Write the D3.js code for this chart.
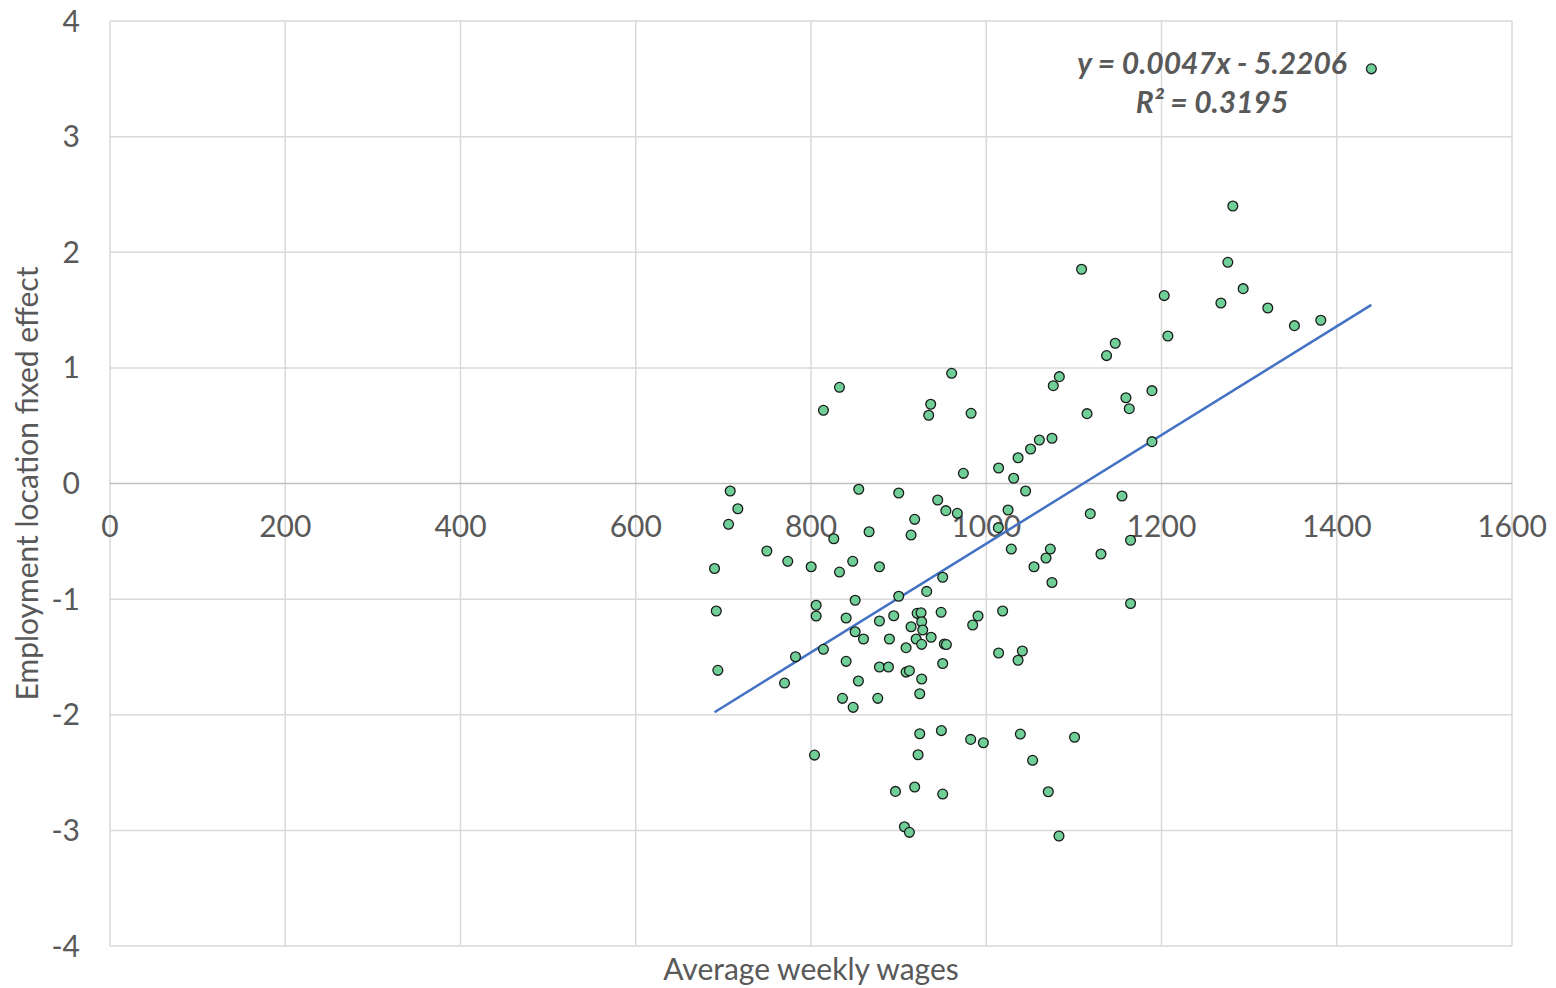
<!DOCTYPE html>
<html><head><meta charset="utf-8">
<script src="https://cdn.jsdelivr.net/npm/d3@7"></script>
<style>html,body{margin:0;padding:0;background:#fff;}</style>
</head><body>
<svg id="c" width="1556" height="988"></svg>
<script>
const xTicks = [0,200,400,600,800,1000,1200,1400,1600];
const yTicks = [-4,-3,-2,-1,0,1,2,3,4];
const wages = [832.5,814.2,936.6,934.3,960.5,707.8,716.5,705.9,854.5,900.1,944.6,953.9,918.3,914.2,866.3,826.0,749.6,773.5,800.2,832.5,847.6,878.1,689.9,950.3,932.0,900.1,850.4,805.9,805.9,691.9,840.1,878.1,894.4,921.1,925.6,948.5,914.2,926.3,927.5,937.1,920.0,926.3,952.2,954.5,889.5,859.9,850.4,814.2,782.3,908.5,840.1,878.1,888.4,908.5,912.3,950.3,693.7,926.3,854.1,769.8,924.1,876.2,835.9,848.1,924.1,948.8,804.0,922.2,896.4,918.3,950.3,906.6,912.3,982.7,1083.4,1076.5,1115.0,1159.4,1163.2,1189.1,1189.1,973.9,1014.1,1031.3,1036.3,1050.6,1060.6,1075.0,1044.9,967.0,1024.9,1013.8,1118.7,1154.9,1164.7,1028.6,1073.1,1068.2,1130.9,1054.5,1075.0,1164.7,1018.7,990.6,984.5,1014.1,1041.2,1036.3,982.2,996.7,1038.9,1100.8,1052.9,1070.8,1083.0,1281.4,1108.8,1275.7,1293.2,1267.8,1321.3,1351.7,1381.8,1203.1,1207.3,1147.2,1137.3,1439.5];
const effects = [0.832,0.633,0.685,0.590,0.953,-0.065,-0.218,-0.353,-0.050,-0.082,-0.143,-0.235,-0.310,-0.446,-0.417,-0.478,-0.584,-0.673,-0.720,-0.766,-0.673,-0.720,-0.735,-0.811,-0.933,-0.975,-1.010,-1.053,-1.146,-1.103,-1.163,-1.189,-1.144,-1.123,-1.118,-1.114,-1.239,-1.196,-1.267,-1.330,-1.345,-1.391,-1.388,-1.393,-1.345,-1.345,-1.282,-1.434,-1.498,-1.420,-1.538,-1.587,-1.587,-1.631,-1.619,-1.557,-1.616,-1.691,-1.708,-1.726,-1.818,-1.858,-1.858,-1.936,-2.164,-2.137,-2.349,-2.346,-2.663,-2.625,-2.686,-2.969,-3.017,0.607,0.924,0.846,0.604,0.742,0.647,0.803,0.362,0.088,0.134,0.045,0.223,0.298,0.376,0.391,-0.065,-0.258,-0.229,-0.382,-0.261,-0.108,-0.491,-0.567,-0.567,-0.644,-0.610,-0.720,-0.856,-1.038,-1.103,-1.146,-1.224,-1.466,-1.449,-1.529,-2.213,-2.242,-2.167,-2.195,-2.394,-2.666,-3.049,2.400,1.853,1.913,1.685,1.561,1.518,1.365,1.412,1.625,1.276,1.213,1.106,3.586];
const slope = 0.0047, intercept = -5.2206;
const eqLabel = "y = 0.0047x - 5.2206";
const r2Label = "R² = 0.3195";
const xTitle = "Average weekly wages";
const yTitle = "Employment location fixed effect";

const svg = d3.select("#c");
const L = 110, R = 1512, T = 21, B = 946;
const x = d3.scaleLinear().domain([0,1600]).range([L,R]);
const y = d3.scaleLinear().domain([-4,4]).range([B,T]);
const font = "Lato, 'Open Sans', sans-serif";
const tc = "#595959";

// gridlines
svg.append("g").selectAll("line.v").data(xTicks).join("line")
  .attr("x1", d=>x(d)).attr("x2", d=>x(d)).attr("y1", T).attr("y2", B)
  .attr("stroke", "#d9d9d9").attr("stroke-width", 1.5);
svg.append("g").selectAll("line.h").data(yTicks).join("line")
  .attr("x1", L).attr("x2", R).attr("y1", d=>y(d)).attr("y2", d=>y(d))
  .attr("stroke", d => d===0 ? "#bfbfbf" : "#d9d9d9").attr("stroke-width", 1.5);

// y tick labels
svg.append("g").selectAll("text").data(yTicks).join("text")
  .attr("x", 80).attr("y", d=>y(d)).attr("dy","0.35em")
  .attr("text-anchor","end").attr("font-family",font).attr("font-size",30)
  .attr("fill",tc).text(d=>d);
// x tick labels at zero line
svg.append("g").selectAll("text").data(xTicks).join("text")
  .attr("x", d=>x(d)).attr("y", y(0)+53)
  .attr("text-anchor","middle").attr("font-family",font).attr("font-size",30)
  .attr("fill",tc).text(d=>d);

// trendline
const xmin = d3.min(wages), xmax = d3.max(wages);
svg.append("line")
  .attr("x1", x(xmin)).attr("y1", y(slope*xmin+intercept))
  .attr("x2", x(xmax)).attr("y2", y(slope*xmax+intercept))
  .attr("stroke","#4472c4").attr("stroke-width",2.5);

// points
svg.append("g").selectAll("circle").data(wages.map((w,i)=>[w,effects[i]])).join("circle")
  .attr("cx", d=>x(d[0])).attr("cy", d=>y(d[1])).attr("r", 4.9)
  .attr("fill","#6fcf97").attr("stroke","#1a1a1a").attr("stroke-width",1.3);

// equation
svg.append("text").attr("x",1212).attr("y",74).attr("text-anchor","middle")
  .attr("font-family",font).attr("font-size",30).attr("font-weight","bold").attr("font-style","italic")
  .attr("fill",tc).text(eqLabel);
svg.append("text").attr("x",1212).attr("y",113).attr("text-anchor","middle")
  .attr("font-family",font).attr("font-size",30).attr("font-weight","bold").attr("font-style","italic")
  .attr("fill",tc).text(r2Label);

// axis titles
svg.append("text").attr("x", (L+R)/2).attr("y", 980).attr("text-anchor","middle")
  .attr("font-family",font).attr("font-size",30).attr("fill",tc).text(xTitle);
svg.append("text").attr("transform",`translate(38,${y(0)}) rotate(-90)`).attr("text-anchor","middle")
  .attr("font-family",font).attr("font-size",30).attr("fill",tc).text(yTitle);
</script>
</body></html>
